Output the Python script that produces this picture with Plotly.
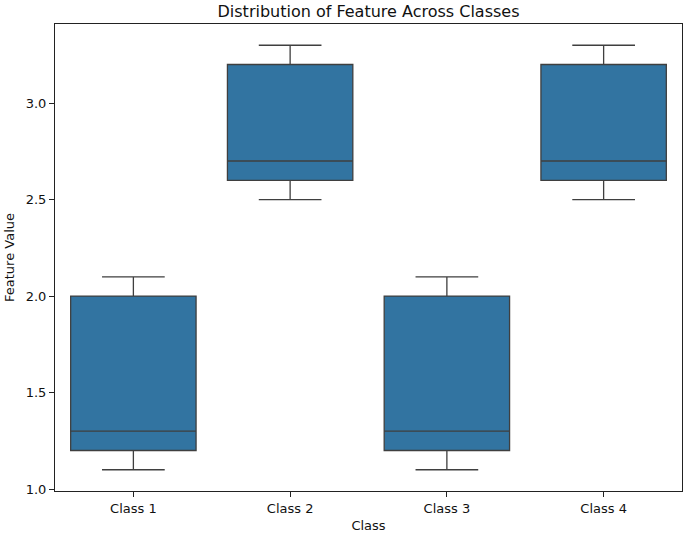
import plotly.graph_objects as go

categories = ["Class 1", "Class 2", "Class 3", "Class 4"]
mins = [1.1, 2.5, 1.1, 2.5]
q1s = [1.2, 2.6, 1.2, 2.6]
medians = [1.3, 2.7, 1.3, 2.7]
q3s = [2.0, 3.2, 2.0, 3.2]
maxs = [2.1, 3.3, 2.1, 3.3]
y_ticks = [1.0, 1.5, 2.0, 2.5, 3.0]

fig = go.Figure()
fig.add_trace(go.Box(
    x=categories, q1=q1s, median=medians, q3=q3s,
    lowerfence=mins, upperfence=maxs,
    fillcolor="#3274a1", line=dict(color="#3f3f3f", width=1.3),
    whiskerwidth=0.5, boxpoints=False, hoverinfo="skip", showlegend=False,
))

font_family = "DejaVu Sans"
axis_common = dict(
    showline=True, linecolor="#222", linewidth=1, mirror=True,
    ticks="outside", ticklen=5, tickwidth=1, tickcolor="#222",
    showgrid=False, zeroline=False, automargin=False,
    tickfont=dict(family=font_family, size=13, color="#111"),
)

fig.update_layout(
    width=685, height=534,
    margin=dict(l=55, r=3, t=24, b=43),
    paper_bgcolor="white", plot_bgcolor="white",
    boxgap=0.2, boxgroupgap=0,
    title=dict(text="Distribution of Feature Across Classes",
               x=(55 + 682) / 2 / 685, xanchor="center",
               y=1 - 11 / 534, yanchor="middle",
               font=dict(family=font_family, size=16, color="#111")),
    xaxis=dict(**axis_common, range=[-0.5, 3.5],
               title=dict(text="Class", standoff=6,
                          font=dict(family=font_family, size=13, color="#111"))),
    yaxis=dict(**axis_common, range=[0.99, 3.41], tickvals=y_ticks,
               ticktext=[f"{v:.1f}" for v in y_ticks],
               title=dict(text="Feature Value", standoff=8,
                          font=dict(family=font_family, size=13, color="#111"))),
)

fig.write_html("out.html", config={"displayModeBar": False},
               post_script="document.body.style.margin='0';")
